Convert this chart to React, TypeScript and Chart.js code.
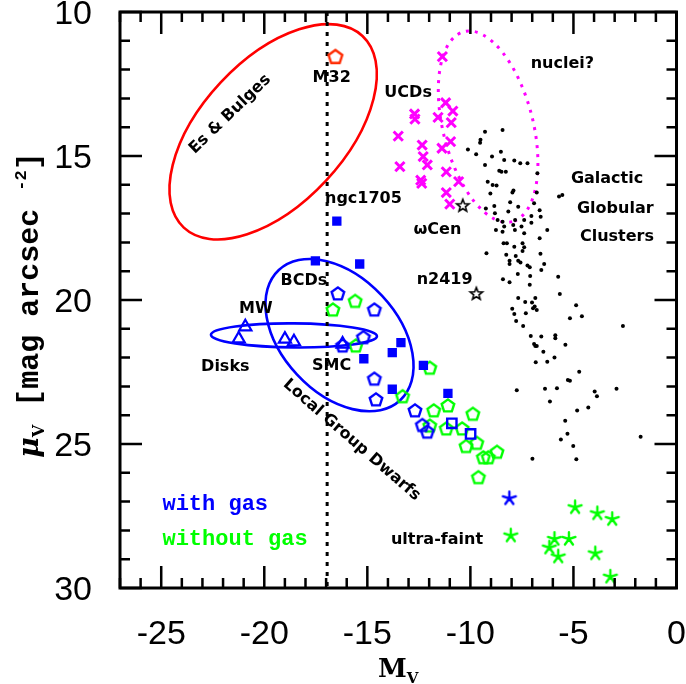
import React, { useEffect, useRef } from "react";
import { Chart, registerables } from "chart.js";
Chart.register(...registerables);

// ---------------- data (M_V, mu_V) ----------------
const globularClusters: [number, number][] = [
  [-9.29, 14.16], [-8.44, 14.1], [-9.51, 14.44], [-9.53, 14.54], [-10.12, 14.77], [-9.72, 14.94],
  [-8.95, 15.02], [-8.52, 14.85], [-9.29, 15.31], [-8.36, 15.14], [-7.87, 15.16], [-7.58, 15.25],
  [-7.23, 15.25], [-8.6, 15.51], [-8.49, 15.55], [-8.28, 15.55], [-6.75, 15.6], [-9.16, 15.89],
  [-8.92, 16.01], [-8.73, 16.02], [-7.91, 16.2], [-7.96, 16.27], [-9.03, 16.3], [-8.07, 16.61],
  [-6.78, 16.27], [-5.7, 16.41], [-5.54, 16.35], [-9.25, 16.82], [-8.84, 16.74], [-8.81, 16.99],
  [-8.16, 16.93], [-7.68, 16.76], [-6.91, 16.64], [-6.64, 16.88], [-8.68, 17.22], [-8.44, 17.28],
  [-7.83, 17.22], [-7.39, 17.22], [-7.04, 17.32], [-8.36, 17.45], [-7.92, 17.4], [-7.84, 17.57],
  [-7.52, 17.45], [-8.76, 17.57], [-8.44, 17.63], [-7.39, 17.68], [-6.64, 17.86], [-6.27, 17.57],
  [-7.04, 17.08], [-6.59, 17.11], [-8.39, 18.03], [-8.23, 18.03], [-7.87, 18.15], [-7.47, 18.03],
  [-7.39, 18.17], [-9.22, 18.38], [-8.26, 18.43], [-7.8, 18.47], [-7.47, 18.3], [-6.6, 18.39],
  [-8.1, 18.64], [-8.1, 18.75], [-7.68, 18.64], [-7.57, 18.7], [-7.23, 18.8], [-7.12, 18.86],
  [-6.42, 18.75], [-6.56, 18.96], [-7.7, 19.1], [-7.1, 19.17], [-5.74, 19.19], [-8.42, 19.28],
  [-8.1, 19.38], [-7.12, 19.47], [-5.66, 19.79], [-7.68, 19.93], [-7.34, 20.07], [-7.01, 20.09],
  [-6.85, 19.93], [-6.96, 20.29], [-6.88, 20.23], [-6.78, 20.35], [-7.97, 20.3], [-7.87, 20.49],
  [-7.31, 20.46], [-4.87, 20.18], [-4.59, 20.56], [-5.17, 20.63], [-7.78, 20.73], [-7.44, 20.9],
  [-2.6, 20.9], [-7.07, 21.25], [-6.56, 21.27], [-5.88, 21.22], [-5.88, 21.33], [-6.91, 21.53],
  [-6.85, 21.6], [-6.78, 21.6], [-5.39, 21.55], [-6.46, 21.8], [-5.92, 22.0], [-6.27, 22.14],
  [-6.83, 22.16], [-4.72, 22.49], [-5.27, 22.78], [-5.17, 22.8], [-7.75, 23.13], [-6.38, 23.08],
  [-5.8, 23.06], [-3.97, 23.18], [-3.86, 23.34], [-2.91, 23.08], [-6.14, 23.52], [-4.28, 23.73],
  [-4.82, 23.84], [-5.4, 24.19], [-5.29, 24.64], [-5.61, 24.84], [-1.74, 24.75], [-5.01, 25.07],
  [-4.86, 25.53], [-6.99, 25.51],
];
const ucds: [number, number][] = [
  [-11.36, 11.55], [-12.71, 13.54], [-12.69, 13.72], [-11.57, 13.66], [-11.2, 13.15], [-10.85, 13.44],
  [-10.93, 13.84], [-13.5, 14.31], [-10.96, 14.5], [-11.38, 14.73], [-12.34, 14.62], [-12.29, 15.02],
  [-12.09, 15.31], [-13.42, 15.37], [-11.17, 15.55], [-12.41, 15.84], [-12.36, 15.95], [-10.57, 15.89],
  [-11.17, 16.27], [-11.0, 16.67],
];
const namedClusters: [number, number][] = [[-10.37, 16.73], [-9.71, 19.79]];
const disks: [number, number][] = [[-20.92, 20.93], [-21.24, 21.35], [-19.0, 21.36], [-18.56, 21.45], [-16.2, 21.53]];
const bcdsWithGas: [number, number][] = [
  [-16.48, 17.26], [-17.52, 18.64], [-15.37, 18.75], [-13.37, 21.48], [-13.79, 21.83],
  [-15.17, 22.04], [-12.28, 22.27], [-13.79, 23.1], [-11.09, 23.24],
];
const openSquaresWithGas: [number, number][] = [[-10.9, 24.28], [-9.99, 24.65]];
const dwarfsWithGas: [number, number][] = [
  [-16.43, 19.79], [-14.66, 20.35], [-15.19, 21.31], [-16.2, 21.6], [-14.66, 22.75],
  [-14.58, 23.47], [-12.69, 23.85], [-12.33, 24.36], [-12.09, 24.59],
];
const dwarfsWithoutGas: [number, number][] = [
  [-15.59, 20.05], [-16.67, 20.35], [-15.56, 21.6], [-11.97, 22.37], [-13.29, 23.36], [-11.09, 23.68],
  [-11.78, 23.85], [-9.88, 23.97], [-11.97, 24.38], [-11.17, 24.48], [-10.4, 24.48], [-10.21, 25.09],
  [-9.69, 24.98], [-9.37, 25.48], [-9.13, 25.48], [-8.71, 25.29], [-9.61, 26.17],
];
const m32: [number, number][] = [[-16.55, 11.57]];
const ultraFaintWithGas: [number, number][] = [[-8.11, 26.89]];
const ultraFaintWithoutGas: [number, number][] = [
  [-8.04, 28.18], [-4.92, 27.2], [-3.84, 27.41], [-3.12, 27.61], [-5.92, 28.3],
  [-5.22, 28.3], [-6.17, 28.6], [-5.74, 28.91], [-3.94, 28.8], [-3.21, 29.61],
];

const xTicks = [-25, -20, -15, -10, -5, 0];
const yTicks = [10, 15, 20, 25, 30];
const xRange = [-27, 0];
const yRange = [10, 30];
const dottedLineX = -16.95;

// annotation shapes: center in data units, radii in px, rotation in degrees
const ellipses = [
  { cx: -19.57, cy: 14.16, rx: 131, ry: 72, rot: -47, color: "#ff0000", dotted: false },
  { cx: -16.35, cy: 21.22, rx: 89, ry: 58, rot: 47, color: "#0000ff", dotted: false },
  { cx: -18.56, cy: 21.23, rx: 83, ry: 12, rot: 0.5, color: "#0000ff", dotted: false },
  { cx: -9.14, cy: 13.98, rx: 98, ry: 45, rot: 75.8, color: "#ff00ff", dotted: true },
];

const labels = [
  { text: "Es & Bulges", x: -21.66, y: 13.55, rot: -44 },
  { text: "M32", x: -16.73, y: 12.28, rot: 0 },
  { text: "ngc1705", x: -15.19, y: 16.49, rot: 0 },
  { text: "UCDs", x: -13.02, y: 12.82, rot: 0 },
  { text: "nuclei?", x: -5.54, y: 11.81, rot: 0 },
  { text: "Galactic", x: -3.37, y: 15.81, rot: 0 },
  { text: "Globular", x: -2.97, y: 16.82, rot: 0 },
  { text: "Clusters", x: -2.89, y: 17.8, rot: 0 },
  { text: "ωCen", x: -11.6, y: 17.55, rot: 0 },
  { text: "n2419", x: -11.25, y: 19.31, rot: 0 },
  { text: "BCDs", x: -18.08, y: 19.33, rot: 0 },
  { text: "MW", x: -20.41, y: 20.31, rot: 0 },
  { text: "Disks", x: -21.89, y: 22.32, rot: 0 },
  { text: "SMC", x: -16.73, y: 22.29, rot: 0 },
  { text: "Local Group Dwarfs", x: -15.76, y: 24.86, rot: 41 },
  { text: "ultra-faint", x: -11.62, y: 28.33, rot: 0 },
];
const legendTexts = [
  { text: "with gas", x: -24.94, y: 27.1, color: "#0000ff" },
  { text: "without gas", x: -24.94, y: 28.3, color: "#00ff00" },
];

// ---------------- marker images ----------------
function makeMarker(size: number, draw: (ctx: CanvasRenderingContext2D) => void) {
  const c = document.createElement("canvas");
  c.width = size;
  c.height = size;
  const ctx = c.getContext("2d")!;
  ctx.translate(size / 2, size / 2);
  draw(ctx);
  return c;
}
function pentagon(color: string, r = 6.6) {
  return makeMarker(22, (ctx) => {
    ctx.beginPath();
    for (let i = 0; i < 5; i++) {
      const a = -Math.PI / 2 + (i * 2 * Math.PI) / 5;
      ctx.lineTo(r * Math.cos(a), r * Math.sin(a));
    }
    ctx.closePath();
    ctx.strokeStyle = color;
    ctx.lineWidth = 2.4;
    ctx.stroke();
  });
}
function openStar(color: string) {
  return makeMarker(18, (ctx) => {
    ctx.beginPath();
    for (let i = 0; i < 10; i++) {
      const a = -Math.PI / 2 + (i * Math.PI) / 5;
      const r = i % 2 === 0 ? 6.5 : 2.8;
      ctx.lineTo(r * Math.cos(a), r * Math.sin(a));
    }
    ctx.closePath();
    ctx.strokeStyle = color;
    ctx.lineWidth = 1.6;
    ctx.stroke();
  });
}
function asterisk(color: string) {
  return makeMarker(18, (ctx) => {
    ctx.beginPath();
    for (let i = 0; i < 5; i++) {
      const a = -Math.PI / 2 + (i * 2 * Math.PI) / 5;
      ctx.moveTo(0, 0);
      ctx.lineTo(6.8 * Math.cos(a), 6.8 * Math.sin(a));
    }
    ctx.strokeStyle = color;
    ctx.lineWidth = 2.4;
    ctx.lineCap = "round";
    ctx.stroke();
  });
}

const toPts = (arr: [number, number][]) => arr.map(([x, y]) => ({ x, y }));

const overlayPlugin = {
  id: "overlay",
  beforeDatasetsDraw(chart: any) {
    const { ctx, chartArea: ca, scales } = chart;
    const xs = scales.x, ys = scales.y;
    ctx.save();
    ctx.beginPath();
    ctx.rect(ca.left, ca.top, ca.right - ca.left, ca.bottom - ca.top);
    ctx.clip();
    for (const e of ellipses) {
      ctx.beginPath();
      ctx.ellipse(xs.getPixelForValue(e.cx), ys.getPixelForValue(e.cy), e.rx, e.ry, (e.rot * Math.PI) / 180, 0, Math.PI * 2);
      ctx.strokeStyle = e.color;
      ctx.lineWidth = e.dotted ? 3 : 2.6;
      ctx.setLineDash(e.dotted ? [3, 6] : []);
      ctx.stroke();
    }
    // vertical dotted line
    ctx.setLineDash([4, 6]);
    ctx.strokeStyle = "#000";
    ctx.lineWidth = 3;
    const lx = xs.getPixelForValue(dottedLineX);
    ctx.beginPath();
    ctx.moveTo(lx, ca.top);
    ctx.lineTo(lx, ca.bottom);
    ctx.stroke();
    ctx.restore();
  },
  afterDraw(chart: any) {
    const { ctx, chartArea: ca, scales } = chart;
    const xs = scales.x, ys = scales.y;
    ctx.save();
    // labels
    ctx.fillStyle = "#000";
    ctx.font = 'bold 16px "DejaVu Sans"';
    ctx.textAlign = "center";
    ctx.textBaseline = "middle";
    for (const l of labels) {
      ctx.save();
      ctx.translate(xs.getPixelForValue(l.x), ys.getPixelForValue(l.y));
      ctx.rotate((l.rot * Math.PI) / 180);
      ctx.fillText(l.text, 0, 0);
      ctx.restore();
    }
    ctx.font = 'bold 22px "Liberation Mono"';
    ctx.textAlign = "left";
    for (const l of legendTexts) {
      ctx.fillStyle = l.color;
      ctx.fillText(l.text, xs.getPixelForValue(l.x), ys.getPixelForValue(l.y));
    }
    // frame
    ctx.strokeStyle = "#000";
    ctx.lineWidth = 3;
    ctx.strokeRect(ca.left, ca.top, ca.right - ca.left, ca.bottom - ca.top);
    // inner ticks
    ctx.lineWidth = 2.5;
    ctx.beginPath();
    for (let v = xRange[0]; v <= xRange[1]; v++) {
      const px = xs.getPixelForValue(v);
      const len = v % 5 === 0 ? 22 : 10;
      ctx.moveTo(px, ca.bottom);
      ctx.lineTo(px, ca.bottom - len);
      ctx.moveTo(px, ca.top);
      ctx.lineTo(px, ca.top + len);
    }
    for (let v = yRange[0]; v <= yRange[1]; v++) {
      const py = ys.getPixelForValue(v);
      const len = v % 5 === 0 ? 22 : 10;
      ctx.moveTo(ca.left, py);
      ctx.lineTo(ca.left + len, py);
      ctx.moveTo(ca.right, py);
      ctx.lineTo(ca.right - len, py);
    }
    ctx.stroke();
    // x title
    ctx.fillStyle = "#000";
    ctx.textBaseline = "alphabetic";
    ctx.textAlign = "left";
    const mainX = 'bold 26px "DejaVu Serif"';
    const subX = 'bold 15px "DejaVu Serif"';
    ctx.font = mainX;
    const wM = ctx.measureText("M").width;
    ctx.font = subX;
    const wV = ctx.measureText("V").width;
    const startX = (ca.left + ca.right) / 2 - (wM + wV) / 2;
    ctx.font = mainX;
    ctx.fillText("M", startX, 677);
    ctx.font = subX;
    ctx.fillText("V", startX + wM, 683);
    // y title
    ctx.save();
    ctx.translate(30, 305);
    ctx.rotate(-Math.PI / 2);
    const parts = [
      { t: "μ", font: 'italic bold 28px "DejaVu Serif"', dy: 0 },
      { t: "V", font: 'bold 16px "DejaVu Serif"', dy: 6 },
      { t: " [mag arcsec ", font: 'bold 30px "Liberation Mono"', dy: 0 },
      { t: "-2", font: 'bold 17px "Liberation Mono"', dy: -12 },
      { t: "]", font: 'bold 30px "Liberation Mono"', dy: 0 },
    ];
    let total = 0;
    const widths = parts.map((p) => {
      ctx.font = p.font;
      const w = ctx.measureText(p.t).width;
      total += w;
      return w;
    });
    let cx = -total / 2;
    ctx.textBaseline = "alphabetic";
    parts.forEach((p, i) => {
      ctx.font = p.font;
      ctx.fillText(p.t, cx, 8 + p.dy);
      cx += widths[i];
    });
    ctx.restore();
    ctx.restore();
  },
};

export default function App() {
  const ref = useRef<HTMLCanvasElement>(null);
  useEffect(() => {
    if (!ref.current) return;
    const tickFont = { family: '"Liberation Sans", Arial, sans-serif', size: 34 };
    const chart = new Chart(ref.current, {
      type: "scatter",
      data: {
        datasets: [
          { label: "GC", data: toPts(globularClusters), pointStyle: "circle", pointRadius: 2, backgroundColor: "#000", borderWidth: 0 },
          { label: "UCDs", data: toPts(ucds), pointStyle: "crossRot", pointRadius: 6.5, borderColor: "#ff00ff", borderWidth: 3 },
          { label: "Named GCs", data: toPts(namedClusters), pointStyle: openStar("#000") as any },
          { label: "Disks", data: toPts(disks), pointStyle: "triangle", pointRadius: 7, borderColor: "#0000ff", backgroundColor: "rgba(0,0,0,0)", borderWidth: 2.2 },
          { label: "BCDs with gas", data: toPts(bcdsWithGas), pointStyle: "rect", pointRadius: 6.6, backgroundColor: "#0000ff", borderColor: "#0000ff", borderWidth: 0 },
          { label: "open squares", data: toPts(openSquaresWithGas), pointStyle: "rect", pointRadius: 6.6, backgroundColor: "rgba(0,0,0,0)", borderColor: "#0000ff", borderWidth: 2.4 },
          { label: "Dwarfs with gas", data: toPts(dwarfsWithGas), pointStyle: pentagon("#0000ff") as any },
          { label: "Dwarfs without gas", data: toPts(dwarfsWithoutGas), pointStyle: pentagon("#00ff00") as any },
          { label: "M32", data: toPts(m32), pointStyle: pentagon("#ff2a00", 7.2) as any },
          { label: "UF with gas", data: toPts(ultraFaintWithGas), pointStyle: asterisk("#0000ff") as any },
          { label: "UF without gas", data: toPts(ultraFaintWithoutGas), pointStyle: asterisk("#00ff00") as any },
        ],
      },
      options: {
        animation: false,
        responsive: false,
        devicePixelRatio: 1,
        events: [],
        layout: { padding: { top: 12, right: 6, left: 0, bottom: 0 } },
        plugins: { legend: { display: false }, tooltip: { enabled: false } },
        scales: {
          x: {
            type: "linear",
            min: xRange[0],
            max: xRange[1],
            grid: { display: false },
            border: { display: false },
            afterBuildTicks: (s: any) => { s.ticks = xTicks.map((v) => ({ value: v })); },
            afterFit: (s: any) => { s.height = 96; s.paddingLeft = 0; s.paddingRight = 0; },
            ticks: { font: tickFont, color: "#000", padding: 18, autoSkip: false, maxRotation: 0 },
          },
          y: {
            type: "linear",
            reverse: true,
            min: yRange[0],
            max: yRange[1],
            grid: { display: false },
            border: { display: false },
            afterBuildTicks: (s: any) => { s.ticks = yTicks.map((v) => ({ value: v })); },
            afterFit: (s: any) => { s.width = 120; s.paddingTop = 0; s.paddingBottom = 0; },
            ticks: { font: tickFont, color: "#000", padding: 20, autoSkip: false, labelOffset: 3 },
          },
        },
      },
      plugins: [overlayPlugin],
    } as any);
    return () => chart.destroy();
  }, []);
  return (
    <div style={{ position: "fixed", left: 0, top: 0, width: 686, height: 684, background: "#fff" }}>
      <canvas ref={ref} width={686} height={684} style={{ width: 686, height: 684 }} />
    </div>
  );
}
